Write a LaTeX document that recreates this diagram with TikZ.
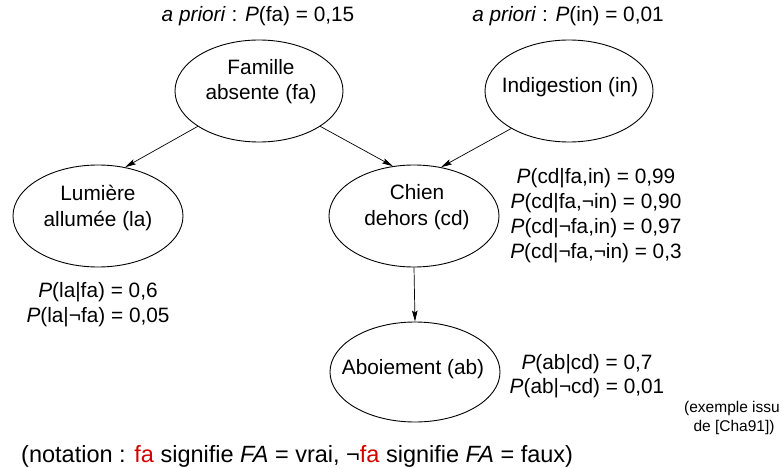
\documentclass[tikz,border=0pt]{standalone}
\usepackage{fontspec}
\setmainfont{Liberation Sans}
\usetikzlibrary{shapes.geometric,arrows.meta}
\definecolor{notered}{RGB}{210,0,0}
\tikzset{
  ell/.style={draw, line width=0.9pt, ellipse, inner sep=0pt},
  txt/.style={inner sep=0pt, anchor=base, font=\fontsize{20.8}{26}\selectfont},
  small/.style={inner sep=0pt, anchor=base, font=\fontsize{15.5}{18}\selectfont},
  conn/.style={line width=0.7pt, -{Stealth[length=11pt,width=5.5pt,inset=2pt]}}
}
\begin{document}
\begin{tikzpicture}[x=1pt,y=-1pt]
\useasboundingbox (0,0) rectangle (784,468);
% ellipses
\node[ell, minimum width=168pt, minimum height=102pt] (fa) at (259,91) {};
\node[ell, minimum width=168pt, minimum height=102pt] (in) at (569,91) {};
\node[ell, minimum width=170pt, minimum height=102pt] (la) at (98,216) {};
\node[ell, minimum width=170pt, minimum height=102pt] (cd) at (414,216) {};
\node[ell, minimum width=170pt, minimum height=100pt] (ab) at (415,372) {};
% node texts
\node[txt] (fa1) at (261,75) {Famille};
\node[txt] (fa2) at (261,100) {absente (fa)};
\node[txt] (in1) at (570,93) {Indigestion (in)};
\node[txt] (la1) at (98,200) {Lumière};
\node[txt] (la2) at (98,226) {allumée (la)};
\node[txt] (cd1) at (417,199) {Chien};
\node[txt] (cd2) at (417,225) {dehors (cd)};
\node[txt] (ab1) at (413,374) {Aboiement (ab)};
% probabilities
\node[txt] (pfa) at (258,22) {\textit{a priori} : \textit{P}(fa) = 0,15};
\node[txt] (pin) at (568,22) {\textit{a priori} : \textit{P}(in) = 0,01};
\node[txt] (pla1) at (98,297) {\textit{P}(la|fa) = 0,6};
\node[txt] (pla2) at (98,322) {\textit{P}(la|¬fa) = 0,05};
\node[txt] (pcd1) at (596,183) {\textit{P}(cd|fa,in) = 0,99};
\node[txt] (pcd2) at (596,208) {\textit{P}(cd|fa,¬in) = 0,90};
\node[txt] (pcd3) at (596,233) {\textit{P}(cd|¬fa,in) = 0,97};
\node[txt] (pcd4) at (596,258) {\textit{P}(cd|¬fa,¬in) = 0,3};
\node[txt] (pab1) at (587,369) {\textit{P}(ab|cd) = 0,7};
\node[txt] (pab2) at (587,393) {\textit{P}(ab|¬cd) = 0,01};
\node[small] (ex1) at (732,412) {(exemple issu};
\node[small] (ex2) at (734,431) {de [Cha91])};
\node[inner sep=0pt, anchor=base west, font=\fontsize{23.5}{28}\selectfont] (nota) at (21,462)
  {(notation : \textcolor{notered}{fa} signifie \textit{FA} = vrai, ¬\textcolor{notered}{fa} signifie \textit{FA} = faux)};
% connectors
\draw[conn] (fa.210) -- (la.61);
\draw[conn] (fa.330) -- (cd.113);
\draw[conn] (in.213) -- (cd.61);
\draw[conn] (cd.south) -- (ab.north);
\end{tikzpicture}
\end{document}
